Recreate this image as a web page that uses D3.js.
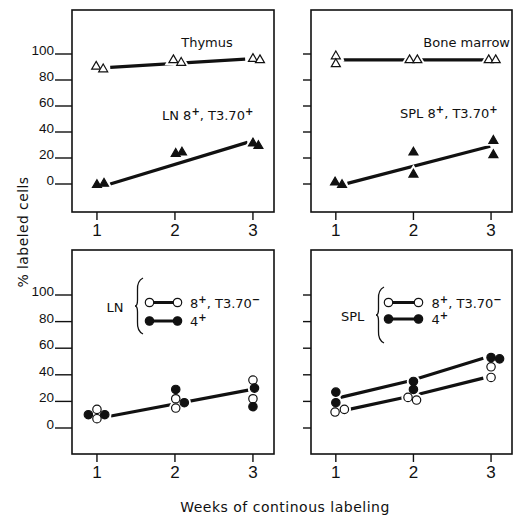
<!DOCTYPE html>
<html>
<head>
<meta charset="utf-8">
<script src="https://cdnjs.cloudflare.com/ajax/libs/d3/7.8.5/d3.min.js"></script>
<style>
body{margin:0;background:#fff}
svg{display:block}
</style>
</head>
<body>
<div id="chart"></div>
<script>
//DATA  [week, % labeled cells]
var weeks = [1, 2, 3];
var yTicks = [0, 20, 40, 60, 80, 100];

var thymus = [[0.99, 91], [1.08, 89], [1.98, 96], [2.08, 94], [3.0, 97], [3.09, 96]];
var thymusFit = [[1.17, 89.7], [2.9, 96.1]];
var lnT370 = [[1.0, 0], [1.09, 1], [2.01, 24], [2.09, 25], [3.0, 32], [3.07, 30]];
var lnT370Fit = [[1.17, 0], [2.93, 32]];

var marrow = [[1.0, 99], [1.0, 93], [1.95, 96], [2.05, 96], [2.97, 96], [3.06, 96]];
var marrowFit = [[1.1, 95.5], [2.95, 95.5]];
var splT370 = [[0.99, 2], [1.08, 0], [2.0, 25], [2.0, 8], [3.03, 34], [3.03, 23]];
var splT370Fit = [[1.15, 0.5], [2.99, 29]];

var ln8neg = [[1.0, 14], [1.0, 7], [2.01, 22], [2.01, 15], [3.0, 36], [3.0, 22]];
var ln4 = [[0.89, 10], [1.1, 10], [2.01, 29], [2.12, 19], [3.02, 30], [3.0, 16]];
var lnFit = [[1.18, 9], [2.94, 28.5]];

var spl8neg = [[0.99, 12], [1.11, 14], [1.93, 23], [2.04, 21], [3.0, 46], [3.0, 38]];
var spl8negFit = [[1.17, 14], [2.0, 24.4], [2.9, 37.5]];
var spl4 = [[1.0, 27], [1.0, 19], [2.0, 35], [2.0, 29], [3.0, 53], [3.11, 52]];
var spl4Fit = [[1.06, 23], [1.96, 35.5], [2.9, 52.5]];

var INK = "#111";
var LABEL_FONT = "'DejaVu Sans', sans-serif";
var TICK_FONT = "'Liberation Sans', Arial, sans-serif";
var X_DOMAIN = [0.68, 3.27];
var TRI = "M0,-4.3L4.5,3.5L-4.5,3.5Z";

var svg = d3.select("#chart").append("svg")
	.attr("width", 514)
	.attr("height", 518);

//WRITE TEXT WITH SUPERSCRIPT PARTS
function richText(g, x, y, parts, anchor){
	var t = g.append("text")
		.attr("x", x)
		.attr("y", y)
		.attr("text-anchor", anchor || "start")
		.attr("font-family", LABEL_FONT)
		.attr("font-size", 13)
		.attr("fill", INK);
	var shifted = false;
	parts.forEach(function(p){
		var s = t.append("tspan").text(p.t);
		if (p.sup) {
			s.attr("dy", -5).attr("font-size", 10).attr("font-weight", "bold");
			shifted = true;
		} else if (shifted) {
			s.attr("dy", 5);
			shifted = false;
		}//endif
	});
	return t;
}

function brace(g, x, top, bottom){
	var mid = (top + bottom) / 2;
	var w = 7;
	g.append("path")
		.attr("d",
			"M" + (x + w) + "," + top +
			"Q" + (x + 1) + "," + (top + 3) + " " + (x + 1.5) + "," + (top + 12) +
			"L" + (x + 1.5) + "," + (mid - 6) +
			"Q" + (x + 1.5) + "," + mid + " " + (x - 1) + "," + mid +
			"Q" + (x + 1.5) + "," + mid + " " + (x + 1.5) + "," + (mid + 6) +
			"L" + (x + 1.5) + "," + (bottom - 12) +
			"Q" + (x + 1) + "," + (bottom - 3) + " " + (x + w) + "," + bottom)
		.attr("fill", "none")
		.attr("stroke", INK)
		.attr("stroke-width", 1.3);
}

function drawPanel(p){
	var g = svg.append("g");
	var x = d3.scaleLinear().domain(X_DOMAIN).range([p.x0, p.x1]);
	var y = d3.scaleLinear().domain([0, 100]).range(p.yRange);

	g.append("rect")
		.attr("x", p.x0)
		.attr("y", p.y0)
		.attr("width", p.x1 - p.x0)
		.attr("height", p.y1 - p.y0)
		.attr("fill", "none")
		.attr("stroke", INK)
		.attr("stroke-width", 1.6);

	//Y TICKS (LONG WITH LABELS ON THE LEFT COLUMN)
	var tickLen = p.labels ? 17 : 8;
	g.selectAll(".yt").data(yTicks).enter().append("line")
		.attr("x1", p.x0 - tickLen)
		.attr("x2", p.x0)
		.attr("y1", function(d){return y(d);})
		.attr("y2", function(d){return y(d);})
		.attr("stroke", INK)
		.attr("stroke-width", 1.4);
	if (p.labels) {
		g.selectAll(".yl").data(yTicks).enter().append("text")
			.attr("x", p.x0 - tickLen - 1)
			.attr("y", function(d){return y(d) + 1;})
			.attr("text-anchor", "end")
			.attr("font-family", TICK_FONT)
			.attr("font-size", 13.5)
			.attr("fill", INK)
			.text(function(d){return d;});
	}//endif

	//X TICKS
	g.selectAll(".xt").data(weeks).enter().append("line")
		.attr("x1", function(d){return x(d);})
		.attr("x2", function(d){return x(d);})
		.attr("y1", p.y1)
		.attr("y2", p.y1 + 8)
		.attr("stroke", INK)
		.attr("stroke-width", 1.4);
	g.selectAll(".xl").data(weeks).enter().append("text")
		.attr("x", function(d){return x(d);})
		.attr("y", p.y1 + 23.5)
		.attr("text-anchor", "middle")
		.attr("font-family", TICK_FONT)
		.attr("font-size", 17)
		.attr("fill", INK)
		.text(function(d){return d;});

	//FITTED LINES
	var line = d3.line().x(function(d){return x(d[0]);}).y(function(d){return y(d[1]);});
	p.series.forEach(function(s){
		g.append("path")
			.attr("d", line(s.fit))
			.attr("fill", "none")
			.attr("stroke", INK)
			.attr("stroke-width", 3.2);
	});

	//WHITE HALOS SO THE LINES BREAK AROUND THE MARKERS
	p.series.forEach(function(s){
		s.pts.forEach(function(d){
			marker(g, s.shape, x(d[0]), y(d[1]), false, "#fff", 5);
		});
	});
	p.series.forEach(function(s){
		s.pts.forEach(function(d){
			marker(g, s.shape, x(d[0]), y(d[1]), s.open, INK, 1.2);
		});
	});

	return {x: x, y: y, g: g};
}

function marker(g, shape, cx, cy, open, stroke, sw){
	var fill = stroke == "#fff" ? "#fff" : (open ? "#fff" : INK);
	var m;
	if (shape == "tri") {
		m = g.append("path").attr("d", TRI).attr("transform", "translate(" + cx + "," + cy + ")");
	} else {
		m = g.append("circle").attr("cx", cx).attr("cy", cy).attr("r", 4.2);
	}//endif
	m.attr("fill", fill).attr("stroke", stroke).attr("stroke-width", sw);
}

var TOP = {y0: 10, y1: 212, yRange: [184, 54]};
var BOT = {y0: 250, y1: 454, yRange: [428, 295]};
var LEFT = {x0: 72, x1: 274};
var RIGHT = {x0: 311, x1: 512};

function at(col, row, extra){
	return Object.assign({}, col, row, extra);
}

var p1 = drawPanel(at(LEFT, TOP, {labels: true, series: [
	{pts: thymus, fit: thymusFit, shape: "tri", open: true},
	{pts: lnT370, fit: lnT370Fit, shape: "tri", open: false}
]}));
p1.g.append("text")
	.attr("x", 207).attr("y", 47)
	.attr("text-anchor", "middle")
	.attr("font-family", LABEL_FONT).attr("font-size", 13).attr("fill", INK)
	.text("Thymus");
richText(p1.g, 162, 120, [{t: "LN  8"}, {t: "+", sup: true}, {t: ", T3.70"}, {t: "+", sup: true}]);

var p2 = drawPanel(at(RIGHT, TOP, {labels: false, series: [
	{pts: marrow, fit: marrowFit, shape: "tri", open: true},
	{pts: splT370, fit: splT370Fit, shape: "tri", open: false}
]}));
p2.g.append("text")
	.attr("x", 510).attr("y", 47)
	.attr("text-anchor", "end")
	.attr("font-family", LABEL_FONT).attr("font-size", 13).attr("fill", INK)
	.text("Bone marrow");
richText(p2.g, 400, 118, [{t: "SPL 8"}, {t: "+", sup: true}, {t: ", T3.70"}, {t: "+", sup: true}]);

var p3 = drawPanel(at(LEFT, BOT, {labels: true, series: [
	{pts: ln8neg, fit: lnFit, shape: "circle", open: true},
	{pts: ln4, fit: [], shape: "circle", open: false}
]}));
var p4 = drawPanel(at(RIGHT, BOT, {labels: false, series: [
	{pts: spl8neg, fit: spl8negFit, shape: "circle", open: true},
	{pts: spl4, fit: spl4Fit, shape: "circle", open: false}
]}));

//LEGENDS
function legend(g, name, nameX, braceX, top, bottom, c1, c2, rowOpen, rowFilled, textX){
	richText(g, nameX, (top + bottom) / 2 + 6, [{t: name}]);
	brace(g, braceX, top, bottom);
	[[rowOpen, true, [{t: "8"}, {t: "+", sup: true}, {t: ", T3.70"}, {t: "\u2212", sup: true}]],
	 [rowFilled, false, [{t: "4"}, {t: "+", sup: true}]]].forEach(function(r){
		g.append("line")
			.attr("x1", c1).attr("x2", c2)
			.attr("y1", r[0]).attr("y2", r[0])
			.attr("stroke", INK).attr("stroke-width", 3);
		marker(g, "circle", c1, r[0], r[1], INK, 1.2);
		marker(g, "circle", c2, r[0], r[1], INK, 1.2);
		richText(g, textX, r[0] + 5, r[2]);
	});
}
legend(p3.g, "LN", 106.5, 136, 278, 334, 149.5, 177.5, 302.5, 321, 190);
legend(p4.g, "SPL", 341, 377, 287, 343, 388.5, 418.5, 302.5, 319, 431.5);

//AXIS TITLES
svg.append("text")
	.attr("transform", "translate(27.5,232) rotate(-90)")
	.attr("text-anchor", "middle")
	.attr("font-family", LABEL_FONT)
	.attr("font-size", 14)
	.attr("letter-spacing", 0.4)
	.attr("fill", INK)
	.text("% labeled cells");

svg.append("text")
	.attr("x", 285)
	.attr("y", 512)
	.attr("text-anchor", "middle")
	.attr("font-family", LABEL_FONT)
	.attr("font-size", 14)
	.attr("letter-spacing", 0.5)
	.attr("fill", INK)
	.text("Weeks of continous labeling");
</script>
</body>
</html>
